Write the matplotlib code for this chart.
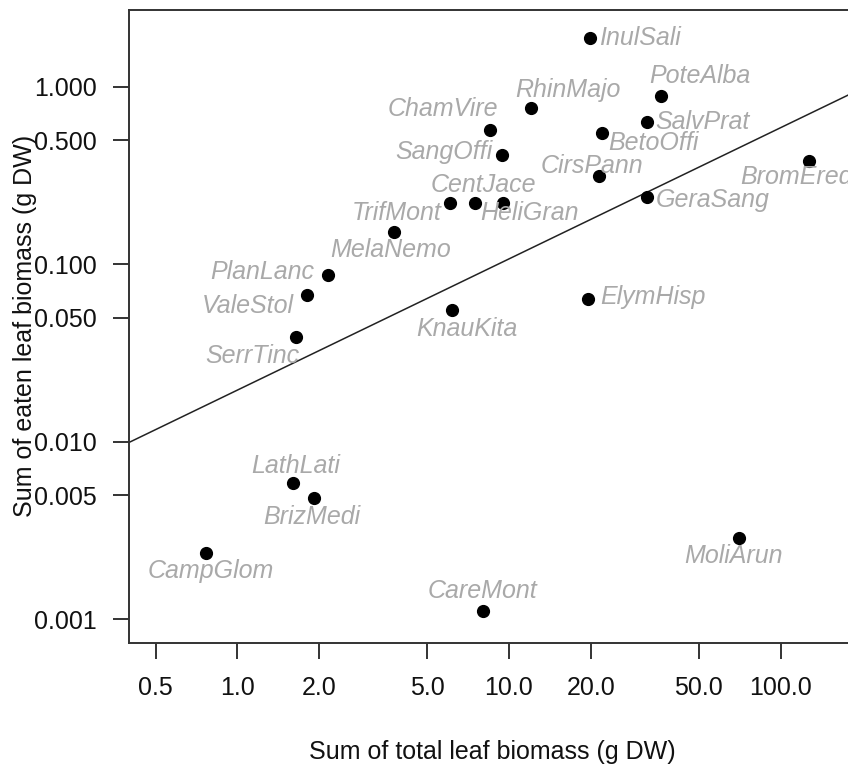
import matplotlib
matplotlib.use("Agg")
import numpy as np
import matplotlib.pyplot as plt
from matplotlib.ticker import FixedLocator, FixedFormatter, NullLocator

plt.rcParams["font.family"] = ["Liberation Sans", "DejaVu Sans"]

# species codes and their summed leaf biomass (g DW)
species = ["InulSali", "PoteAlba", "RhinMajo", "SalvPrat", "ChamVire", "BetoOffi",
           "SangOffi", "CirsPann", "BromEred", "GeraSang", "CentJace", "HeliGran",
           "TrifMont", "MelaNemo", "PlanLanc", "ValeStol", "SerrTinc", "KnauKita",
           "ElymHisp", "LathLati", "BrizMedi", "CampGlom", "CareMont", "MoliArun"]
total_biomass = [19.9, 36.3, 12.1, 32.3, 8.51, 22.0,
                 9.45, 21.5, 127.4, 32.3, 7.50, 9.48,
                 6.06, 3.77, 2.15, 1.81, 1.64, 6.19,
                 19.6, 1.60, 1.92, 0.767, 8.02, 70.5]
eaten_biomass = [1.88, 0.887, 0.756, 0.636, 0.571, 0.547,
                 0.413, 0.315, 0.381, 0.239, 0.221, 0.221,
                 0.221, 0.152, 0.0875, 0.0676, 0.0389, 0.0556,
                 0.064, 0.00584, 0.00483, 0.00236, 0.00111, 0.00288]

# log-log regression line: log10(y) = a + b*log10(x)
fit_intercept = -1.708
fit_slope = 0.739

x_ticks = [0.5, 1, 2, 5, 10, 20, 50, 100]
x_ticklabels = ["0.5", "1.0", "2.0", "5.0", "10.0", "20.0", "50.0", "100.0"]
y_ticks = [0.001, 0.005, 0.01, 0.05, 0.1, 0.5, 1]
y_ticklabels = ["0.001", "0.005", "0.010", "0.050", "0.100", "0.500", "1.000"]

# label placement (pixel offsets from the point, +dy = down) -- layout only
label_pos = {
    "InulSali": (9, 0, "left"), "PoteAlba": (39, -20, "center"),
    "RhinMajo": (36, -18, "center"), "SalvPrat": (8, 0, "left"),
    "ChamVire": (-47, -21, "center"), "BetoOffi": (51, 10, "center"),
    "SangOffi": (-10, -3, "right"), "CirsPann": (-7, -10, "center"),
    "BromEred": (-13, 16, "center"), "GeraSang": (8, 3, "left"),
    "CentJace": (8, -18, "center"), "HeliGran": (27, 10, "center"),
    "TrifMont": (-8, 10, "right"), "MelaNemo": (-3, 18, "center"),
    "PlanLanc": (-13, -3, "right"), "ValeStol": (-14, 11, "right"),
    "SerrTinc": (-43, 19, "center"), "KnauKita": (14, 19, "center"),
    "ElymHisp": (12, -2, "left"), "LathLati": (3, -17, "center"),
    "BrizMedi": (-3, 19, "center"), "CampGlom": (5, 18, "center"),
    "CareMont": (0, -20, "center"), "MoliArun": (-6, 18, "center"),
}

fig = plt.figure(figsize=(8.48, 7.67), dpi=100)
ax = fig.add_axes([129.3 / 848, (767 - 642.7) / 767, 727 / 848, 632.7 / 767])

ax.set_xscale("log")
ax.set_yscale("log")
ax.set_xlim(0.40, 190)
ax.set_ylim(0.00074, 2.71)

xs = np.logspace(np.log10(0.40), np.log10(190), 50)
ax.plot(xs, 10 ** (fit_intercept + fit_slope * np.log10(xs)), color="#222222", lw=1.1)

ax.scatter(total_biomass, eaten_biomass, s=72, color="black", zorder=3)

for name, xv, yv in zip(species, total_biomass, eaten_biomass):
    dx, dy, ha = label_pos[name]
    ax.annotate(name, (xv, yv), xytext=(dx * 0.72, -dy * 0.72), textcoords="offset points",
                ha=ha, va="center", fontsize=18, style="italic", color="#a9a9a9",
                annotation_clip=False)

ax.xaxis.set_major_locator(FixedLocator(x_ticks))
ax.xaxis.set_major_formatter(FixedFormatter(x_ticklabels))
ax.yaxis.set_major_locator(FixedLocator(y_ticks))
ax.yaxis.set_major_formatter(FixedFormatter(y_ticklabels))
ax.xaxis.set_minor_locator(NullLocator())
ax.yaxis.set_minor_locator(NullLocator())

ax.tick_params(axis="both", length=11.5, width=1.4, color="#333333", labelsize=18,
               labelcolor="#111111")
ax.tick_params(axis="x", pad=12.5)
ax.tick_params(axis="y", pad=12)
for sp in ax.spines.values():
    sp.set_linewidth(1.4)
    sp.set_color("#333333")

ax.set_xlabel("Sum of total leaf biomass (g DW)", fontsize=18, color="#111111")
ax.set_ylabel("Sum of eaten leaf biomass (g DW)", fontsize=18, color="#111111")
ax.xaxis.set_label_coords(0.5, -0.1538)
ax.yaxis.set_label_coords(-0.127, 0.5)

fig.savefig("out.png", dpi=100)
